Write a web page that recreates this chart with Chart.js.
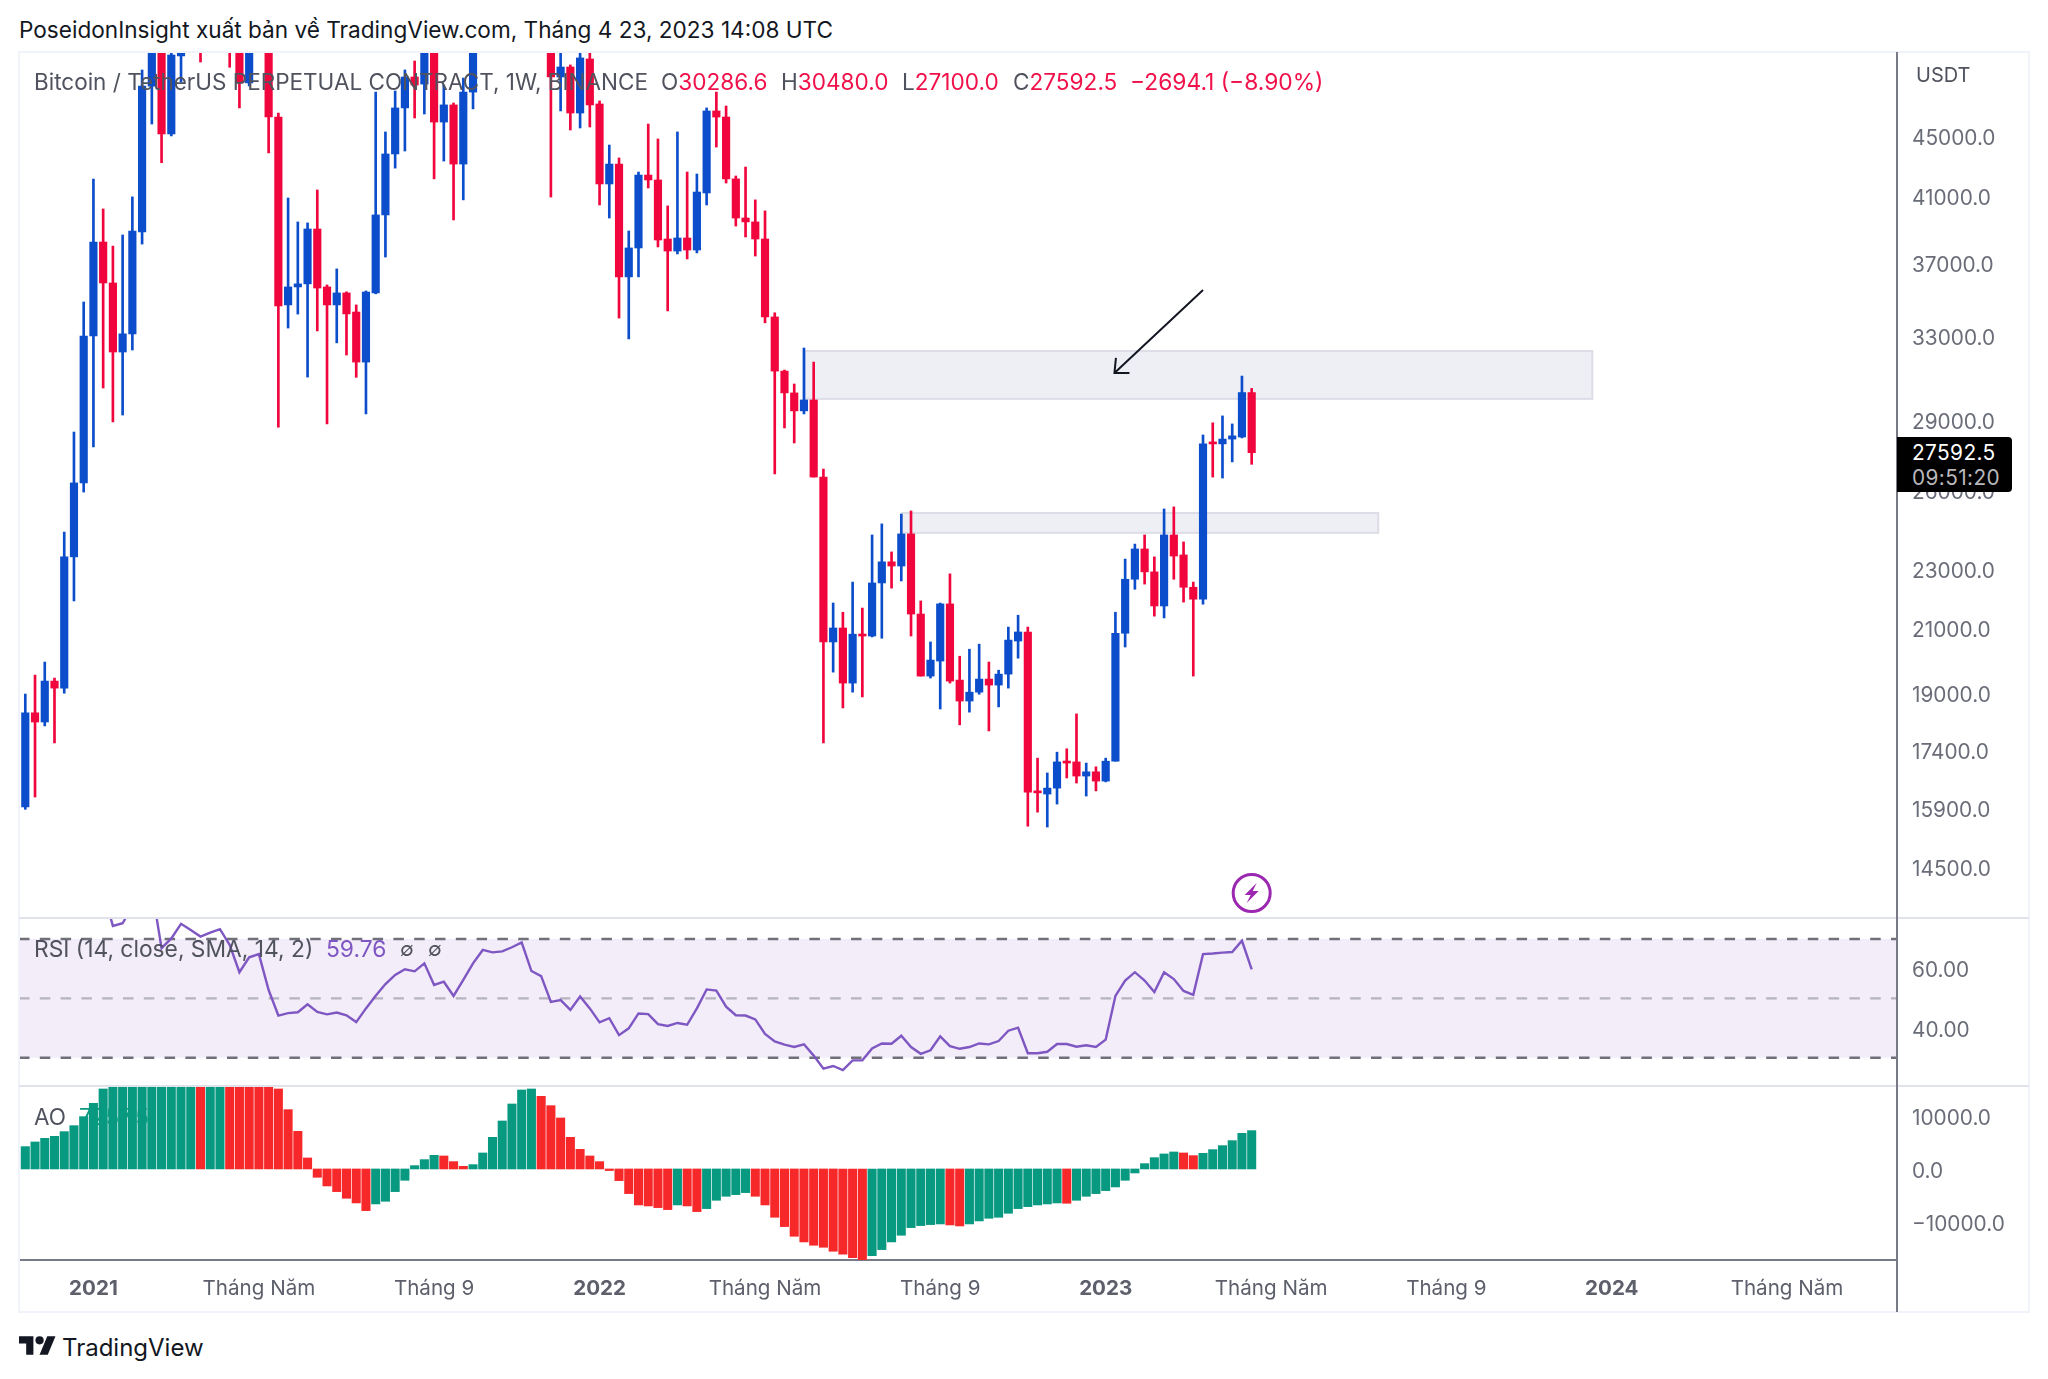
<!DOCTYPE html>
<html><head><meta charset="utf-8">
<script src="https://cdn.jsdelivr.net/npm/chart.js@4"></script>
<style>
html,body{margin:0;padding:0;background:#fff;width:2048px;height:1379px;overflow:hidden;font-family:Inter,"Noto Sans",sans-serif}
canvas{position:absolute;left:0;display:block}
.t{position:absolute;white-space:nowrap;z-index:5;line-height:1;transform:translateY(-50%)}
.g{color:#50535e}.r{color:#f0114a}
.ln{position:absolute;z-index:4}
</style></head><body>
<canvas id="cMain" width="2048" height="865" style="top:52px;width:2048px;height:865px"></canvas>
<canvas id="cRsi" width="2048" height="168" style="top:917px;width:2048px;height:168px"></canvas>
<canvas id="cAo" width="2048" height="227" style="top:1085px;width:2048px;height:227px"></canvas>

<div class="ln" style="left:19px;top:51px;width:2010px;height:2px;background:#f0f3fa"></div>
<div class="ln" style="left:19px;top:1311px;width:2010px;height:2px;background:#f0f3fa"></div>
<div class="ln" style="left:18px;top:51px;width:2px;height:1262px;background:#f0f3fa"></div>
<div class="ln" style="left:2028px;top:51px;width:2px;height:1262px;background:#f0f3fa"></div>
<div class="ln" style="left:19px;top:917px;width:2010px;height:2px;background:#e0e3eb"></div>
<div class="ln" style="left:19px;top:1085px;width:2010px;height:2px;background:#e0e3eb"></div>
<div class="ln" style="left:1896px;top:52px;width:2px;height:1260px;background:#787b86"></div>

<div class="t" style="left:19px;top:30px;font-size:22.6px;color:#131722">PoseidonInsight xuất bản về TradingView.com, Tháng 4 23, 2023 14:08 UTC</div>

<div class="t g" style="left:34px;top:81.5px;font-size:22.5px">Bitcoin / TetherUS PERPETUAL CONTRACT, 1W, BINANCE</div>
<div class="t g" style="left:661px;top:81.5px;font-size:22.6px">O<span class="r">30286.6</span></div>
<div class="t g" style="left:781px;top:81.5px;font-size:22.6px">H<span class="r">30480.0</span></div>
<div class="t g" style="left:902px;top:81.5px;font-size:22.6px">L<span class="r">27100.0</span></div>
<div class="t g" style="left:1013px;top:81.5px;font-size:22.6px">C<span class="r">27592.5</span></div>
<div class="t r" style="left:1130px;top:81.5px;font-size:22.8px">−2694.1 (−8.90%)</div>
<div class="t g" style="left:1916px;top:75px;font-size:20px">USDT</div>

<div class="t g" style="left:34px;top:949px;font-size:22.8px">RSI (14, close, SMA, 14, 2)</div>
<div class="t" style="left:326px;top:949px;font-size:22.8px;color:#7e57c2">59.76</div>
<div class="t g" style="left:400px;top:949px;font-size:20px">∅</div>
<div class="t g" style="left:428px;top:949px;font-size:20px">∅</div>

<div class="t g" style="left:34px;top:1117px;font-size:22.5px">AO</div>
<div class="t" style="left:79px;top:1117px;font-size:22.5px;color:#089981">7257.5</div>

<div class="ln" style="left:1897px;top:437px;width:115px;height:55px;background:#000;border-radius:0 4px 4px 0;z-index:6"></div>
<div class="t" style="left:1912px;top:453px;font-size:20.8px;color:#fff;z-index:7;letter-spacing:.4px">27592.5</div>
<div class="t" style="left:1912px;top:478px;font-size:20.8px;color:#b8b8bc;z-index:7;letter-spacing:.4px">09:51:20</div>

<svg style="position:absolute;left:19px;top:1336px;z-index:5" width="37" height="19" viewBox="0 4 36 18"><path fill="#131722" d="M14 22H7V11H0V4h14v18zM28 22h-8l7.5-18h8L28 22z"/><circle fill="#131722" cx="20" cy="8" r="4"/></svg>
<div class="t" style="left:62px;top:1348px;font-size:24px;color:#131722">TradingView</div>

<script>
const opens=[15940,18440,18180,19370,19160,23480,26330,33060,38240,35890,
32250,33170,38840,48690,57400,45210,51010,59000,57350,55800,
57900,60000,56000,48930,56500,58200,46410,34690,35670,35840,
39020,35670,34690,35340,34310,31750,35340,39880,43830,47070,
49380,48840,51800,46050,47290,43150,48240,54900,61500,60900,
61500,63300,65500,58600,57300,49380,50150,46700,50780,47360,
41840,43150,36230,37890,42420,42100,38420,37710,38480,37770,
41260,46850,46410,42170,39690,39450,38420,34050,31310,30270,
29440,29940,26570,20580,21030,19310,20830,20770,22550,23300,
23150,24330,21490,19520,19980,21830,19400,18780,19040,19430,
19250,19580,20610,20900,16310,16260,16410,17110,17090,16720,
16830,16590,17110,20860,22680,23770,22940,21760,24290,23550,
22400,21990,28010,27970,28180,28270,30286.6];
const closes=[18440,18180,19370,19160,23480,26330,33060,38240,35890,32250,
33170,38900,48690,57400,45210,51090,61200,57350,55800,57900,
60000,56000,48930,56500,58200,46410,34640,35670,35840,39020,
35610,34690,35340,34210,31750,35390,39880,43830,47070,49380,
48770,51800,46050,47290,43150,48240,54900,61500,60900,61500,
63300,65500,58600,57300,49380,50150,46700,50860,47290,41840,
43150,36230,37890,42420,42100,38360,37710,38480,37770,41320,
46850,46410,42170,39690,39450,38420,34050,31310,30270,29440,
29940,26570,20580,21030,19310,20830,20770,22550,23300,23150,
24330,21490,19520,20010,21830,19370,18780,19040,19430,19250,
19580,20640,20900,16310,16290,16410,17090,17060,16720,16830,
16590,17110,20860,22680,23770,22940,21760,24290,23510,22400,
21990,27970,27970,28180,28320,30286.6,27592.5];
const highs=[18985,19550,19950,19460,24400,28490,34850,42160,40250,38000,
38660,41010,49920,58350,58000,52600,61800,61800,58400,60000,
61500,65000,57500,58500,59500,59500,46690,40940,39450,39390,
41450,35780,36680,35400,34690,35450,48240,45350,48320,49920,
50620,52900,52900,48770,47430,49300,56500,62900,67000,63700,
64300,69000,66500,59500,59100,52000,50310,53500,52000,47580,
44440,43560,38900,42620,45910,44860,40440,45350,42620,42490,
47070,48240,47210,42360,42950,40820,40130,34270,31360,30690,
32450,31750,26900,21860,21550,22580,21690,24290,24710,23660,
25090,25210,21930,20580,21860,22870,20130,20350,20510,19950,
19700,21060,21450,21060,17190,16800,17350,17440,18410,17060,
16960,17190,21550,23400,23950,24290,23480,25290,25370,24030,
22580,28360,28900,29210,28850,31070,30480];
const lows=[15880,16185,18070,17600,19010,21930,25960,27840,30500,28940,
29250,32350,38120,45910,43240,45070,49000,53200,50540,54900,
55500,50130,47070,48700,52900,43900,28710,33470,34200,31020,
33320,28850,32710,32100,31010,29300,35290,37360,42880,44030,
46340,46630,42170,43350,39570,40820,47000,54000,59500,57800,
59500,62300,55500,53200,41000,46850,45490,45630,45700,40500,
39690,33990,32910,36230,41580,37950,34370,37540,37250,37600,
40500,44300,41900,39200,38540,37420,33740,26700,28670,28010,
29300,26570,17600,19640,18580,19040,18900,20740,20700,22370,
22620,20770,19520,19460,18550,19310,18100,18460,18980,17930,
18610,19160,20070,15470,15810,15450,16010,16670,16540,16210,
16340,16570,17110,20420,22330,22510,21420,21360,22680,21890,
19520,21820,26570,26530,27200,28230,27100];
const rsiValues=[88,90,91,90,89,88,88,87,86,74.4,
75.3,81,84,87,66.9,70.2,75.1,73,70.8,72.1,
73.3,68,58.8,63.8,64.9,52.8,44.2,45,45.3,48,
45.4,44.6,45.2,44.3,42,46.6,50.9,54.8,57.9,59.8,
59.1,61.8,54.5,55.6,50.8,56.2,61.8,66.3,65.5,65.8,
67.2,68.8,59.2,57.5,48.8,49.4,46.1,50.6,46.6,41.9,
43.3,37.6,39.9,44.9,44.7,41.3,40.7,41.7,41.1,46.6,
53,52.6,47.2,44.3,44.2,42.9,38,35.5,34.4,33.6,
34.5,30.7,26.3,27.2,25.8,29.1,29.1,33.1,34.8,34.7,
37.4,33.6,31.3,32.5,37.2,33.9,33,33.6,34.8,34.5,
35.6,39.1,40.1,31.5,31.5,32,34.6,34.6,33.7,34.2,
33.6,36.1,50.8,56,58.8,56,52.1,58.8,56.5,52.5,
51.2,64.9,65.1,65.4,65.6,69.4,59.76];
const aoValues=[4228,5111,5805,6184,7067,8203,9907,12431,15144,18000,
21000,24000,26000,28000,30000,31000,32000,33000,32500,33000,
33500,32000,29000,26000,22000,18000,15144,11232,7130,2082,
-1578,-3218,-4291,-5553,-6436,-7888,-6626,-6121,-4291,-2145,
631,1767,2587,2461,1388,505,820,3029,5995,9086,
12305,14955,15144,13756,11989,9654,5995,3723,2461,1388,
-300,-2209,-4669,-6815,-7004,-7320,-7698,-6815,-7004,-8077,
-7509,-5931,-5174,-4859,-4480,-5174,-6815,-9150,-10916,-12746,
-13819,-14450,-14829,-15586,-16154,-16785,-17600,-16406,-15270,-13819,
-12557,-11106,-10727,-10538,-10412,-10601,-10790,-10412,-9844,-9339,
-9150,-8392,-7509,-7130,-6815,-6626,-6436,-6499,-5931,-5174,
-4669,-4102,-3407,-2145,-757,1010,2145,2840,3218,3029,
2524,2966,3660,4417,5364,6752,7257];
const priceTicks=[45000,41000,37000,33000,29000,26000,23000,21000,19000,17400,15900,14500];
const rsiTicks=[60,40];
const aoTicks=[10000,0,-10000];
const timeTickIndex=[7,24,42,59,76,94,111,128,146,163,181];
const timeTickLabels=['2021','Tháng Năm','Tháng 9','2022','Tháng Năm','Tháng 9','2023','Tháng Năm','Tháng 9','2024','Tháng Năm'];
const yearLabels=['2021','2022','2023','2024'];
const zoneUpper=[80.1,161,32300,29990];
const zoneLower=[90.07,139,25130,24370];
const arrowFrom=[121,35500];
const arrowTo=[111.9,31220];
const rsiBands=[70,50,30];

const UP='#0b4dcb',DOWN='#f0053c',RSI='#7e57c2',TEAL='#089981',AORED='#f7282a',LINE='#787b86',TXT='#6a6d78';
const XMIN=-0.647,XMAX=192.3;
const font={family:'Inter, "Noto Sans", sans-serif',size:20.8};
const idx=opens.map((_,i)=>i);
const noPad=s=>{s.paddingTop=0;s.paddingBottom=0;s.paddingLeft=0;s.paddingRight=0};
const fit=s=>{s.width=151;noPad(s)};
const xHidden={type:'linear',display:false,offset:false,bounds:'data',min:XMIN,max:XMAX};
function yAxis(ticks,fmt,labelOffset,extra){
  return Object.assign({position:'right',offset:false,afterFit:fit,
    afterBuildTicks:s=>{s.ticks=ticks.map(v=>({value:v}))},
    grid:{display:false,drawTicks:false},border:{display:false},
    ticks:{autoSkip:false,maxRotation:0,padding:15,crossAlign:'near',labelOffset,color:TXT,font,callback:fmt}},extra);
}
const base={responsive:false,animation:false,devicePixelRatio:1,events:[],
  plugins:{legend:{display:false},tooltip:{enabled:false}}};

const drawOverlay={id:'overlay',
  beforeDatasetsDraw(c){
    const {ctx,scales:{x,y}}=c;
    [zoneUpper,zoneLower].forEach(z=>{
      const l=x.getPixelForValue(z[0]),r=x.getPixelForValue(z[1]),t=y.getPixelForValue(z[2]),b=y.getPixelForValue(z[3]);
      ctx.save();ctx.fillStyle='#eeeff5';ctx.strokeStyle='#dcdde6';ctx.lineWidth=2;
      ctx.fillRect(l,t,r-l,b-t);ctx.strokeRect(l,t,r-l,b-t);ctx.restore();
    });
  },
  afterDatasetsDraw(c){
    const {ctx,scales:{x,y}}=c;
    const x0=x.getPixelForValue(arrowFrom[0]),y0=y.getPixelForValue(arrowFrom[1]);
    const x1=x.getPixelForValue(arrowTo[0]),y1=y.getPixelForValue(arrowTo[1]);
    ctx.save();ctx.strokeStyle='#131722';ctx.lineWidth=2;ctx.beginPath();
    ctx.moveTo(x0,y0);ctx.lineTo(x1,y1);
    ctx.moveTo(x1+1.5,y1-15);ctx.lineTo(x1,y1);ctx.lineTo(x1+15,y1);ctx.stroke();
    // session marker at the last bar
    const cx=x.getPixelForValue(opens.length-1),cy=841;
    ctx.strokeStyle='#9c27b0';ctx.lineWidth=3;ctx.beginPath();ctx.arc(cx,cy,18.5,0,Math.PI*2);ctx.stroke();
    ctx.fillStyle='#9c27b0';ctx.beginPath();
    ctx.moveTo(cx+5,cy-10);ctx.lineTo(cx-7,cy+2);ctx.lineTo(cx-1,cy+2);ctx.lineTo(cx-5,cy+10);ctx.lineTo(cx+7,cy-2);ctx.lineTo(cx+1,cy-2);ctx.closePath();ctx.fill();
    ctx.restore();
  }};

new Chart(document.getElementById('cMain'),{type:'bar',
  data:{datasets:[
    {label:'wick',order:2,grouped:false,barThickness:2,
     data:idx.map(i=>({x:i,y:[lows[i],highs[i]]})),
     backgroundColor:idx.map(i=>closes[i]>=opens[i]?UP:DOWN)},
    {label:'body',order:1,grouped:false,barThickness:7.5,minBarLength:2,
     data:idx.map(i=>({x:i,y:[opens[i],closes[i]]})),
     backgroundColor:idx.map(i=>closes[i]>=opens[i]?UP:DOWN)}
  ]},
  options:Object.assign({},base,{layout:{padding:{left:19,right:0,top:0,bottom:0}},
    scales:{x:xHidden,
      y:yAxis(priceTicks,v=>Number(v).toFixed(1),2,{type:'logarithmic',min:13440,max:51330})}}),
  plugins:[drawOverlay]});

const drawBands={id:'bands',beforeDatasetsDraw(c){
  const {ctx,chartArea:a,scales:{y}}=c;
  const t=y.getPixelForValue(rsiBands[0]),m=y.getPixelForValue(rsiBands[1]),b=y.getPixelForValue(rsiBands[2]);
  ctx.save();ctx.fillStyle='#f3ecf9';ctx.fillRect(a.left,t,a.right-a.left,b-t);
  ctx.lineWidth=2.4;ctx.setLineDash([10.5,10.3]);
  [[t,'#6f7079'],[b,'#6f7079'],[m,'rgba(120,123,134,0.5)']].forEach(([p,col])=>{
    ctx.strokeStyle=col;ctx.beginPath();ctx.moveTo(a.left,p);ctx.lineTo(a.right,p);ctx.stroke();});
  ctx.restore();
}};
new Chart(document.getElementById('cRsi'),{type:'line',
  data:{datasets:[{data:idx.map(i=>({x:i,y:rsiValues[i]})),borderColor:RSI,borderWidth:2.4,pointRadius:0,tension:0}]},
  options:Object.assign({},base,{layout:{padding:{left:19,right:0,top:0,bottom:0}},
    scales:{x:xHidden,y:yAxis(rsiTicks,v=>Number(v).toFixed(2),2.5,{type:'linear',bounds:'data',min:20.8,max:77.4})}}),
  plugins:[drawBands]});

new Chart(document.getElementById('cAo'),{type:'bar',
  data:{datasets:[{barThickness:8.4,data:idx.map(i=>({x:i,y:aoValues[i]})),
    backgroundColor:idx.map(i=>(i===0||aoValues[i]>=aoValues[i-1])?TEAL:AORED)}]},
  options:Object.assign({},base,{layout:{padding:{left:19,right:0,top:0,bottom:0}},
    scales:{
      x:{type:'linear',position:'bottom',offset:false,bounds:'data',min:XMIN,max:XMAX,
        afterFit:s=>{s.height=52;noPad(s)},
        afterBuildTicks:s=>{s.ticks=timeTickIndex.map(v=>({value:v}))},
        grid:{display:false,drawTicks:false},border:{display:true,color:LINE,width:2},
        ticks:{autoSkip:false,maxRotation:0,minRotation:0,padding:16,color:'#5d606b',
          callback:v=>timeTickLabels[timeTickIndex.indexOf(v)],
          font:ctx=>({family:font.family,size:20.6,weight:yearLabels.includes(timeTickLabels[timeTickIndex.indexOf(ctx.tick&&ctx.tick.value)])?'700':'400'})}},
      y:yAxis(aoTicks,v=>Number(v).toFixed(1).replace('-','−'),3,{type:'linear',bounds:'data',min:-17240,max:15900})
    }})});
</script>
</body></html>
